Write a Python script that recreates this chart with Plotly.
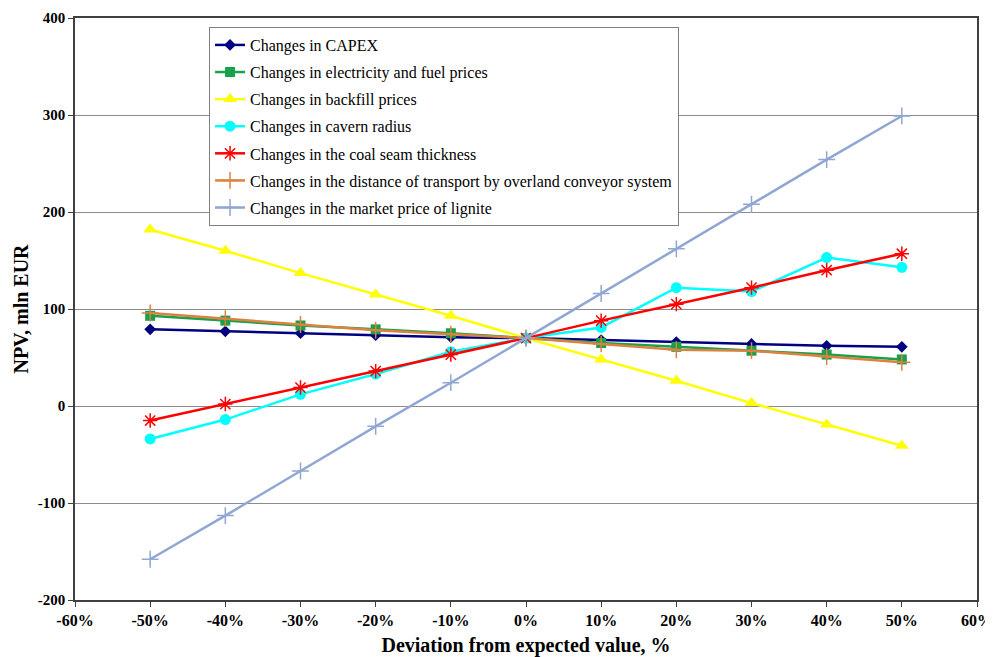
import plotly.graph_objects as go

deviation = [-50, -40, -30, -20, -10, 0, 10, 20, 30, 40, 50]

capex = [79, 77, 75, 73, 71, 70, 68, 66, 64, 62, 61]
electricity_fuel = [93, 88, 83, 79, 75, 70, 65, 61, 57, 53, 48]
backfill = [182, 160, 137, 115, 93, 70, 48, 26, 3, -19, -41]
cavern_radius = [-34, -14, 12, 33, 56, 70, 81, 122, 118, 153, 143]
coal_seam = [-15, 2, 19, 36, 53, 70, 88, 105, 122, 140, 157]
conveyor_distance = [96, 90, 84, 78, 74, 70, 64, 58, 57, 51, 45]
lignite_price = [-158, -113, -67, -21, 24, 70, 116, 162, 208, 254, 299]

x_tick_vals = [-60, -50, -40, -30, -20, -10, 0, 10, 20, 30, 40, 50, 60]
x_tick_text = ["-60%", "-50%", "-40%", "-30%", "-20%", "-10%", "0%", "10%", "20%", "30%", "40%", "50%", "60%"]
y_tick_vals = [-200, -100, 0, 100, 200, 300, 400]
y_tick_text = ["-200", "-100", "0", "100", "200", "300", "400"]

series = [
    ("Changes in CAPEX", capex, "#000080", "diamond", 9, 0),
    ("Changes in electricity and fuel prices", electricity_fuel, "#18A04A", "square", 10, 0),
    ("Changes in backfill prices", backfill, "#FFFF00", "triangle-up", 12, 0),
    ("Changes in cavern radius", cavern_radius, "#00FFFF", "circle", 11, 0),
    ("Changes in the coal seam thickness", coal_seam, "#FF0000", "asterisk-open", 12, 1.5),
    ("Changes in the distance of transport by overland conveyor system", conveyor_distance, "#DC8240", "cross-thin-open", 12, 1.5),
    ("Changes in the market price of lignite", lignite_price, "#8FA7D2", "cross-thin-open", 12, 1.5),
]

SERIF = "Liberation Serif, Times New Roman, serif"

fig = go.Figure()
for i, (name, vals, color, sym, size, lw) in enumerate(series):
    marker = dict(symbol=sym, size=size, color=color)
    if lw:
        marker["line"] = dict(color=color, width=lw)
    fig.add_trace(go.Scatter(
        x=deviation, y=vals, name=name, mode="lines+markers",
        line=dict(color=color, width=2.5), marker=marker,
        legendgroup=f"g{i}",
    ))

# The page body has an 8px default margin, so the figure is drawn 8px smaller
fig.update_layout(
    width=985, height=649,
    margin=dict(l=67, r=16, t=10, b=57),
    plot_bgcolor="white", paper_bgcolor="white",
    font=dict(family=SERIF, color="black"),
    showlegend=True,
    legend=dict(
        x=0.1486, y=0.9845, xanchor="left", yanchor="top",
        bgcolor="white", bordercolor="#808080", borderwidth=1,
        font=dict(size=16, family=SERIF),
        tracegroupgap=3.3, traceorder="grouped", itemwidth=30,
    ),
    xaxis=dict(
        range=[-60, 60], tickvals=x_tick_vals, ticktext=x_tick_text,
        showgrid=False, zeroline=False, automargin=False,
        showline=True, linecolor="#404040", linewidth=1.5, mirror=True,
        ticks="outside", ticklen=5, tickcolor="#404040",
        tickfont=dict(size=16, family=SERIF, weight="bold"),
        title=dict(text="<b>Deviation from expected value, %</b>", font=dict(size=20, family=SERIF), standoff=10),
    ),
    yaxis=dict(
        range=[-200, 400], tickvals=y_tick_vals, ticktext=y_tick_text,
        showgrid=True, gridcolor="#8c8c8c", gridwidth=1, zeroline=False, automargin=False,
        showline=True, linecolor="#404040", linewidth=1.5, mirror=True,
        ticks="outside", ticklen=5, tickcolor="#404040",
        tickfont=dict(size=15, family=SERIF, weight="bold"),
        title=dict(text="<b>NPV, mln EUR</b>", font=dict(size=20, family=SERIF), standoff=4),
    ),
)

fig.write_html("out.html")
